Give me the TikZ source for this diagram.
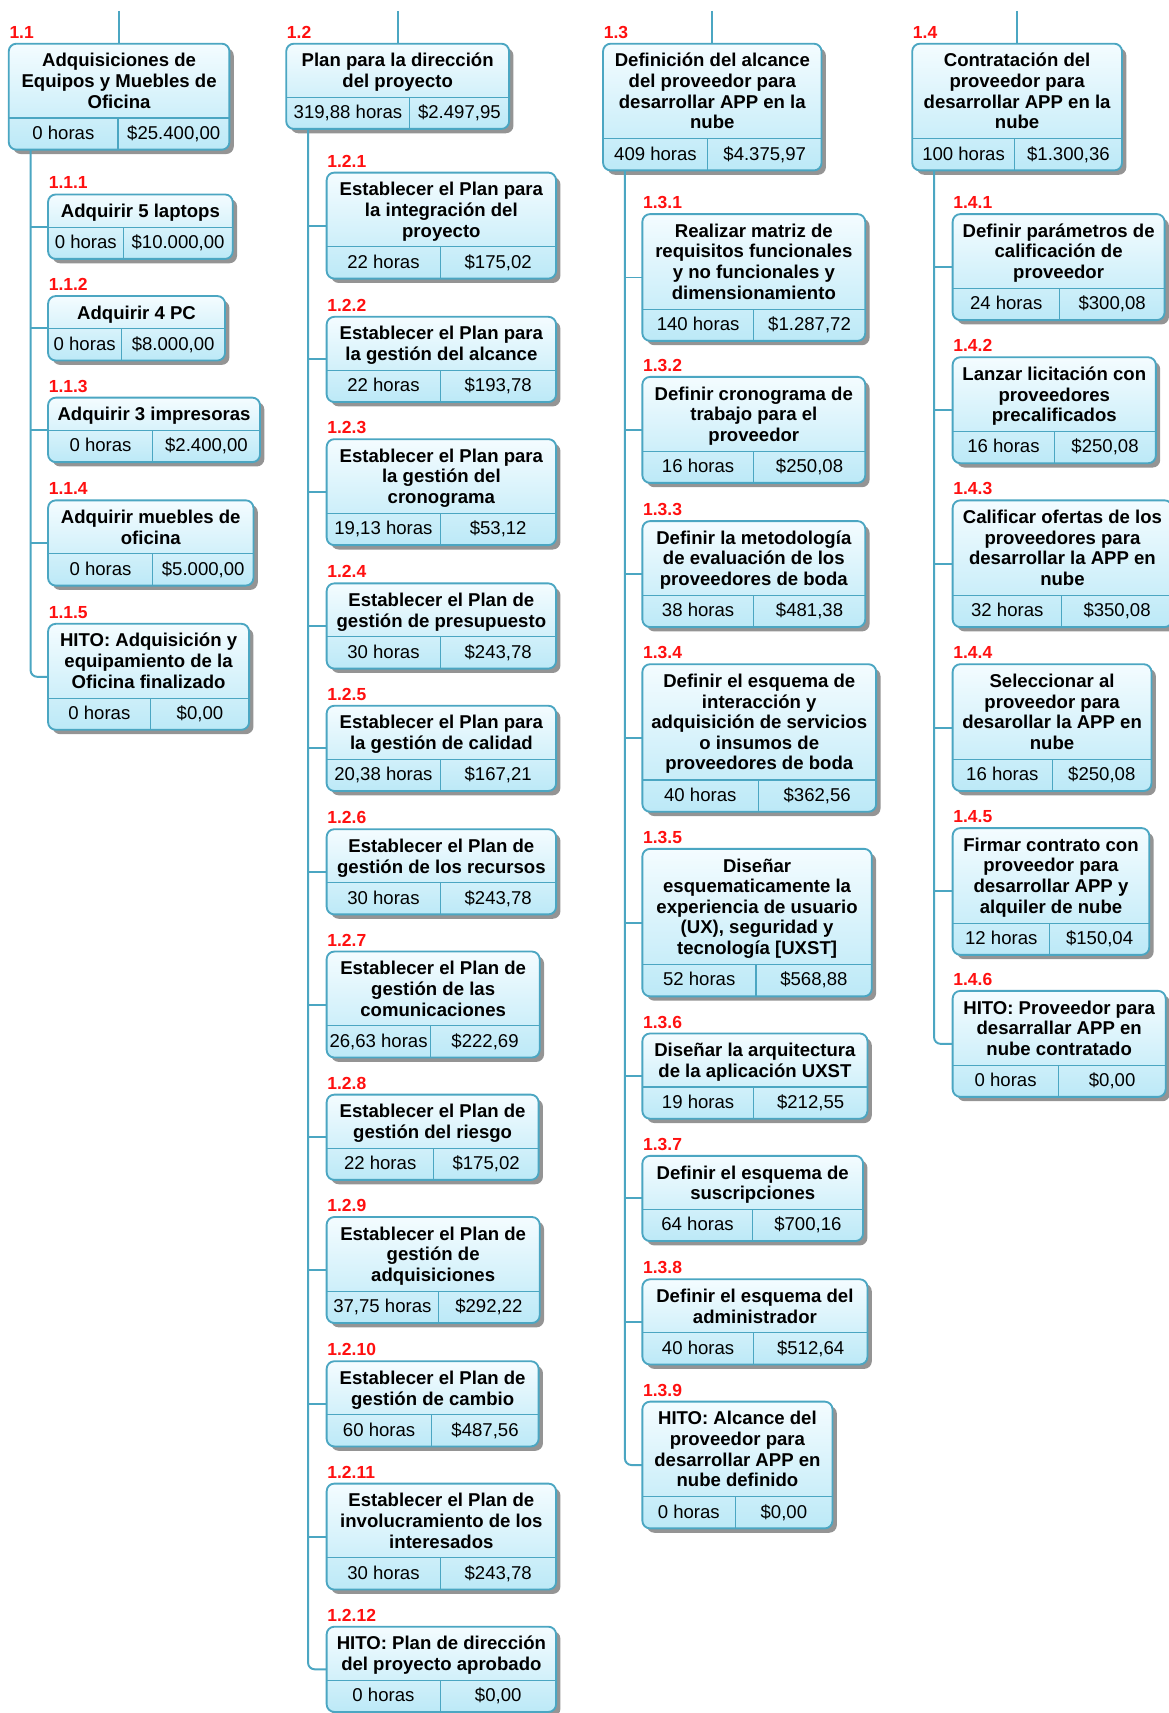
\documentclass[tikz,border=0pt]{standalone}
\usepackage{fontspec}
\setmainfont{Liberation Sans}
\usetikzlibrary{shadows}
\definecolor{bordc}{HTML}{4BA6C2}
\definecolor{topc}{HTML}{F4FCFF}
\definecolor{botc}{HTML}{BCE9F7}
\definecolor{lblred}{HTML}{FF1010}
\tikzset{
  wbsframe/.style={draw=bordc, line width=1.7pt, rounded corners=7pt, inner sep=0pt, outer sep=0pt,
    top color=topc, bottom color=botc,
    drop shadow={shadow xshift=4pt, shadow yshift=-4pt, fill=black, opacity=0.42}},
  divline/.style={draw=bordc, line width=1pt},
  conn/.style={draw=bordc, line width=1.8pt},
  ttl/.style={font=\fontsize{17}{18.9}\selectfont\bfseries, align=center, inner sep=0pt, text=black},
  num/.style={font=\fontsize{17}{19}\selectfont, inner sep=0pt, text=black},
  lbl/.style={font=\fontsize{16}{17}\selectfont\bfseries, text=lblred, inner sep=0pt}
}
\def\wbsparse#1,#2,#3,#4,#5\relax{\def\wbsxa{#1}\def\wbsxb{#2}\def\wbsyt{#3}\def\wbsn{#4}\def\wbsxd{#5}}
\newcommand\wbs[6]{%
  \wbsparse#3\relax
  \pgfmathsetmacro\wbsdiv{\wbsyt+19*\wbsn+11}%
  \pgfmathsetmacro\wbsyb{\wbsdiv+29}%
  \pgfmathsetmacro\wbscx{(\wbsxa+\wbsxb)/2}%
  \pgfmathsetmacro\wbscy{(\wbsyt+\wbsyb)/2}%
  \pgfmathsetmacro\wbsw{\wbsxb-\wbsxa}%
  \pgfmathsetmacro\wbsh{\wbsyb-\wbsyt}%
  \pgfmathsetmacro\wbshx{(\wbsxa+\wbsxd)/2}%
  \pgfmathsetmacro\wbscxx{(\wbsxd+\wbsxb)/2}%
  \node[wbsframe, minimum width=\wbsw pt, minimum height=\wbsh pt] (#1) at (\wbscx,\wbscy) {};
  \draw[divline] (\wbsxa,\wbsdiv) -- (\wbsxb,\wbsdiv);
  \draw[divline] (\wbsxd,\wbsdiv) -- (\wbsxd,\wbsyb);
  \node[lbl, anchor=base west] (#1-l) at (\wbsxa+0.5,\wbsyt-5) {#2};
  \node[ttl, anchor=north] (#1-t) at (\wbscx,\wbsyt+8) {\rule{0pt}{13pt}#4};
  \node[num, anchor=base] (#1-h) at (\wbshx,\wbsdiv+19.5) {#5};
  \node[num, anchor=base] (#1-c) at (\wbscxx,\wbsdiv+19.5) {#6};
}
\begin{document}
\begin{tikzpicture}[x=1pt,y=-1pt]
\fill[white] (0,0) rectangle (1070,1568);
\useasboundingbox (0,0) rectangle (1070,1568);

% ---------- column 1.1 ----------
\wbs{p11}{1.1}{8,210,40,3,108}{Adquisiciones de\\Equipos y Muebles de\\Oficina}{0 horas}{\$25.400,00}
\wbs{c111}{1.1.1}{44,213,178,1,113}{Adquirir 5 laptops}{0 horas}{\$10.000,00}
\wbs{c112}{1.1.2}{44,206,271,1,111}{Adquirir 4 PC}{0 horas}{\$8.000,00}
\wbs{c113}{1.1.3}{44,238,364,1,140}{Adquirir 3 impresoras}{0 horas}{\$2.400,00}
\wbs{c114}{1.1.4}{44,232,458,2,140}{Adquirir muebles de\\oficina}{0 horas}{\$5.000,00}
\wbs{c115}{1.1.5}{44,228,571,3,138}{HITO: Adquisición y\\equipamiento de la\\Oficina finalizado}{0 horas}{\$0,00}

% ---------- column 1.2 ----------
\wbs{p12}{1.2}{262,466,40,2,375}{Plan para la dirección\\del proyecto}{319,88 horas}{\$2.497,95}
\wbs{c121}{1.2.1}{299,509,158,3,403}{Establecer el Plan para\\la integración del\\proyecto}{22 horas}{\$175,02}
\wbs{c122}{1.2.2}{299,509,290,2,403}{Establecer el Plan para\\la gestión del alcance}{22 horas}{\$193,78}
\wbs{c123}{1.2.3}{299,509,402,3,403}{Establecer el Plan para\\la gestión del\\cronograma}{19,13 horas}{\$53,12}
\wbs{c124}{1.2.4}{299,509,534,2,403}{Establecer el Plan de\\gestión de presupuesto}{30 horas}{\$243,78}
\wbs{c125}{1.2.5}{299,509,646,2,403}{Establecer el Plan para\\la gestión de calidad}{20,38 horas}{\$167,21}
\wbs{c126}{1.2.6}{299,509,759,2,403}{Establecer el Plan de\\gestión de los recursos}{30 horas}{\$243,78}
\wbs{c127}{1.2.7}{299,494,871,3,394}{Establecer el Plan de\\gestión de las\\comunicaciones}{26,63 horas}{\$222,69}
\wbs{c128}{1.2.8}{299,493,1002,2,397}{Establecer el Plan de\\gestión del riesgo}{22 horas}{\$175,02}
\wbs{c129}{1.2.9}{299,494,1114,3,401}{Establecer el Plan de\\gestión de\\adquisiciones}{37,75 horas}{\$292,22}
\wbs{c1210}{1.2.10}{299,493,1246,2,395}{Establecer el Plan de\\gestión de cambio}{60 horas}{\$487,56}
\wbs{c1211}{1.2.11}{299,509,1358,3,403}{Establecer el Plan de\\involucramiento de los\\interesados}{30 horas}{\$243,78}
\wbs{c1212}{1.2.12}{299,509,1489,2,403}{HITO: Plan de dirección\\del proyecto aprobado}{0 horas}{\$0,00}

% ---------- column 1.3 ----------
\wbs{p13}{1.3}{552,752,40,4,648}{Definición del alcance\\del proveedor para\\desarrollar APP en la\\nube}{409 horas}{\$4.375,97}
\wbs{c131}{1.3.1}{588,792,196,4,690}{Realizar matriz de\\requisitos funcionales\\y no funcionales y\\dimensionamiento}{140 horas}{\$1.287,72}
\wbs{c132}{1.3.2}{588,792,345,3,690}{Definir cronograma de\\trabajo para el\\proveedor}{16 horas}{\$250,08}
\wbs{c133}{1.3.3}{588,792,477,3,690}{Definir la metodología\\de evaluación de los\\proveedores de boda}{38 horas}{\$481,38}
\wbs{c134}{1.3.4}{588,802,608,5,694}{Definir el esquema de\\interacción y\\adquisición de servicios\\o insumos de\\proveedores de boda}{40 horas}{\$362,56}
\wbs{c135}{1.3.5}{588,798,777,5,692}{Diseñar\\esquematicamente la\\experiencia de usuario\\(UX), seguridad y\\tecnología [UXST]}{52 horas}{\$568,88}
\wbs{c136}{1.3.6}{588,794,946,2,690}{Diseñar la arquitectura\\de la aplicación UXST}{19 horas}{\$212,55}
\wbs{c137}{1.3.7}{588,790,1058,2,689}{Definir el esquema de\\suscripciones}{64 horas}{\$700,16}
\wbs{c138}{1.3.8}{588,794,1171,2,690}{Definir el esquema del\\administrador}{40 horas}{\$512,64}
\wbs{c139}{1.3.9}{588,762,1283,4,673}{HITO: Alcance del\\proveedor para\\desarrollar APP en\\nube definido}{0 horas}{\$0,00}

% ---------- column 1.4 ----------
\wbs{p14}{1.4}{835,1027,40,4,929}{Contratación del\\proveedor para\\desarrollar APP en la\\nube}{100 horas}{\$1.300,36}
\wbs{c141}{1.4.1}{872,1066,196,3,970}{Definir parámetros de\\calificación de\\proveedor}{24 horas}{\$300,08}
\wbs{c142}{1.4.2}{872,1058,327,3,965}{Lanzar licitación con\\proveedores\\precalificados}{16 horas}{\$250,08}
\wbs{c143}{1.4.3}{872,1073,458,4,972}{Calificar ofertas de los\\proveedores para\\desarrollar la APP en\\nube}{32 horas}{\$350,08}
\wbs{c144}{1.4.4}{872,1054,608,4,963}{Seleccionar al\\proveedor para\\desarollar la APP en\\nube}{16 horas}{\$250,08}
\wbs{c145}{1.4.5}{872,1052,758,4,961}{Firmar contrato con\\proveedor para\\desarrollar APP y\\alquiler de nube}{12 horas}{\$150,04}
\wbs{c146}{1.4.6}{872,1067,907,3,969}{HITO: Proveedor para\\desarrallar APP en\\nube contratado}{0 horas}{\$0,00}

% ---------- connectors ----------
\foreach \p in {p11,p12,p13,p14}{
  \coordinate (s\p) at ([yshift=30pt]\p.north);
  \draw[conn] (s\p) -- (\p.north);
}
\coordinate (t11) at ([xshift=20pt]p11.south west);
\coordinate (t12) at ([xshift=20pt]p12.south west);
\coordinate (t13) at ([xshift=20pt]p13.south west);
\coordinate (t14) at ([xshift=20pt]p14.south west);

\draw[conn, rounded corners=6pt] (t11) |- (c115.west);
\foreach \c in {c111,c112,c113,c114} \draw[conn] (t11 |- \c.west) -- (\c.west);

\draw[conn, rounded corners=6pt] (t12) |- (c1212.west);
\foreach \c in {c121,c122,c123,c124,c125,c126,c127,c128,c129,c1210,c1211} \draw[conn] (t12 |- \c.west) -- (\c.west);

\draw[conn, rounded corners=6pt] (t13) |- (c139.west);
\foreach \c in {c131,c132,c133,c134,c135,c136,c137,c138} \draw[conn] (t13 |- \c.west) -- (\c.west);

\draw[conn, rounded corners=6pt] (t14) |- (c146.west);
\foreach \c in {c141,c142,c143,c144,c145} \draw[conn] (t14 |- \c.west) -- (\c.west);
\end{tikzpicture}
\end{document}
